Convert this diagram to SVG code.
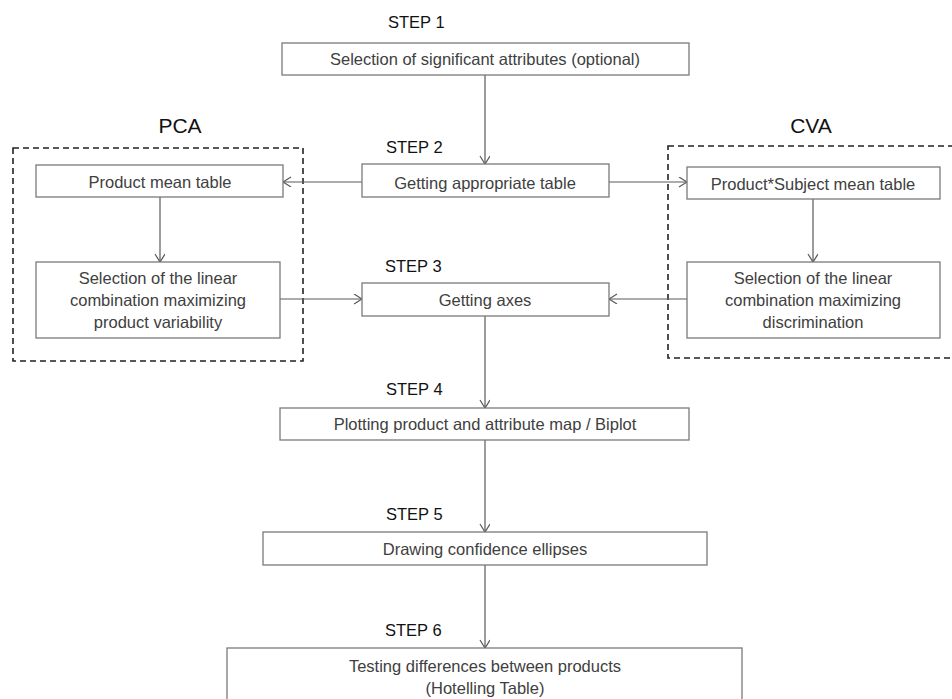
<svg xmlns="http://www.w3.org/2000/svg" width="952" height="699" viewBox="0 0 952 699">
<style>
.box{fill:#fff;stroke:#7a7a7a;stroke-width:1.3}
.grp{fill:none;stroke:#222;stroke-width:1.6;stroke-dasharray:6 4}
.t{font-family:"Liberation Sans",Arial,sans-serif;font-size:16.5px;fill:#404040;text-anchor:middle}
.step{font-family:"Liberation Sans",Arial,sans-serif;font-size:16.5px;fill:#111}
.big{font-family:"Liberation Sans",Arial,sans-serif;font-size:21px;fill:#111;text-anchor:middle}
.c{fill:none;stroke:#5a5a5a;stroke-width:1.2;marker-end:url(#arr)}
</style>
<defs>
<marker id="arr" markerUnits="userSpaceOnUse" markerWidth="12" markerHeight="12" refX="9" refY="5" orient="auto">
<path d="M1,0 L9,5 L1,10" fill="none" stroke="#5a5a5a" stroke-width="1.2"/>
</marker>
</defs>
<rect width="952" height="699" fill="#fff"/>
<g id="pca-group">
<rect class="grp" x="13" y="148" width="290" height="213"/>
<text class="big" x="180" y="133">PCA</text>
</g>
<g id="cva-group">
<rect class="grp" x="668" y="146" width="290" height="212"/>
<text class="big" x="811" y="133">CVA</text>
</g>
<g id="connectors">
<path class="c" d="M485,75 V164"/>
<path class="c" d="M362,182 H283"/>
<path class="c" d="M609,182 H687"/>
<path class="c" d="M160,197 V262"/>
<path class="c" d="M813,199 V262"/>
<path class="c" d="M280,299 H362"/>
<path class="c" d="M687,299 H609"/>
<path class="c" d="M485,316 V408"/>
<path class="c" d="M485,440 V532"/>
<path class="c" d="M485,565 V648"/>
</g>
<g id="step1">
<text class="step" x="388" y="28">STEP 1</text>
<rect class="box" x="282" y="43" width="407" height="32"/>
<text class="t" x="485" y="65">Selection of significant attributes (optional)</text>
</g>
<g id="step2">
<text class="step" x="386" y="153">STEP 2</text>
<rect class="box" x="362" y="164" width="247" height="33"/>
<text class="t" x="485" y="189">Getting appropriate table</text>
</g>
<g id="product-mean">
<rect class="box" x="36" y="165" width="247" height="32"/>
<text class="t" x="160" y="188">Product mean table</text>
</g>
<g id="pca-selection">
<rect class="box" x="36" y="262" width="244" height="76"/>
<text class="t" x="158" y="284">Selection of the linear</text>
<text class="t" x="158" y="306">combination maximizing</text>
<text class="t" x="158" y="328">product variability</text>
</g>
<g id="product-subject">
<rect class="box" x="687" y="167" width="253" height="32"/>
<text class="t" x="813" y="190">Product*Subject mean table</text>
</g>
<g id="cva-selection">
<rect class="box" x="687" y="262" width="253" height="76"/>
<text class="t" x="813" y="284">Selection of the linear</text>
<text class="t" x="813" y="306">combination maximizing</text>
<text class="t" x="813" y="328">discrimination</text>
</g>
<g id="step3">
<text class="step" x="385" y="272">STEP 3</text>
<rect class="box" x="362" y="283" width="247" height="33"/>
<text class="t" x="485" y="306">Getting axes</text>
</g>
<g id="step4">
<text class="step" x="386" y="395">STEP 4</text>
<rect class="box" x="280" y="408" width="409" height="32"/>
<text class="t" x="485" y="430">Plotting product and attribute map / Biplot</text>
</g>
<g id="step5">
<text class="step" x="386" y="520">STEP 5</text>
<rect class="box" x="263" y="532" width="444" height="33"/>
<text class="t" x="485" y="555">Drawing confidence ellipses</text>
</g>
<g id="step6">
<text class="step" x="385" y="636">STEP 6</text>
<rect class="box" x="227" y="648" width="515" height="70"/>
<text class="t" x="485" y="672">Testing differences between products</text>
<text class="t" x="485" y="694">(Hotelling Table)</text>
</g>
</svg>
